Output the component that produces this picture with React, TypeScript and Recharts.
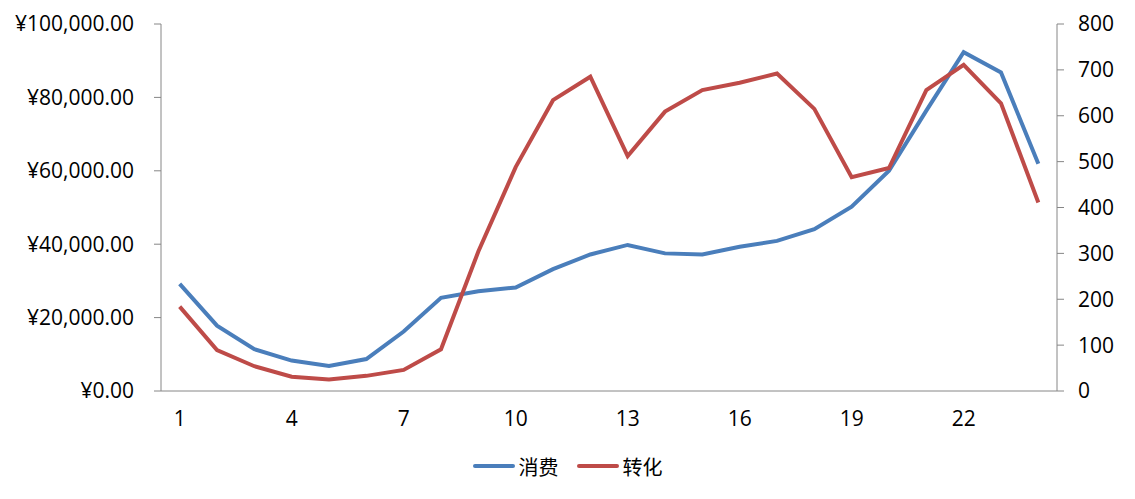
import { CartesianGrid, Legend, Line, LineChart, XAxis, YAxis } from "recharts";

const days = [
  "1", "2", "3", "4", "5", "6", "7", "8", "9", "10", "11", "12",
  "13", "14", "15", "16", "17", "18", "19", "20", "21", "22", "23", "24",
];

// 消费 (left axis, ¥)
const spend = [
  29200, 17800, 11400, 8300, 6800, 8700, 16200, 25400, 27200, 28200, 33200, 37200,
  39800, 37500, 37200, 39300, 40900, 44100, 50200, 60000, 76400, 92300, 86800, 61900,
];

// 转化 (right axis)
const conversions = [
  184, 89, 54, 31, 25, 33, 46, 91, 304, 488, 634, 685,
  512, 609, 656, 672, 692, 615, 466, 486, 656, 711, 627, 411,
];

const leftTicks = [0, 20000, 40000, 60000, 80000, 100000];
const rightTicks = [0, 100, 200, 300, 400, 500, 600, 700, 800];

const BLUE = "#4A7EBB";
const RED = "#BE4B48";
const AXIS = "#868686";
const FONT = '"Open Sans", "Noto Sans CJK SC", sans-serif';

const data = days.map((day, i) => ({
  day,
  spend: spend[i],
  conversions: conversions[i],
}));

const yen = (v: number) =>
  "¥" + v.toLocaleString("en-US", { minimumFractionDigits: 2, maximumFractionDigits: 2 });

const LegendContent = () => (
  <div
    style={{
      display: "flex",
      justifyContent: "center",
      alignItems: "center",
      height: 30,
      fontFamily: FONT,
      fontSize: 20,
      color: "#000",
    }}
  >
    {[
      { name: "消费", color: BLUE },
      { name: "转化", color: RED },
    ].map((item, i) => (
      <div key={item.name} style={{ display: "flex", alignItems: "center", marginLeft: i ? 18 : 0 }}>
        <div style={{ width: 42, height: 4, borderRadius: 2, background: item.color, marginRight: 4 }} />
        <span>{item.name}</span>
      </div>
    ))}
  </div>
);

export default function App() {
  const tick = { fill: "#000", fontSize: 21, fontFamily: FONT };
  return (
    <div style={{ position: "absolute", left: 0, top: 0, width: 1135, height: 499, background: "#fff" }}>
      <LineChart
        width={1135}
        height={499}
        data={data}
        margin={{ top: 24, right: 0, left: 0, bottom: 18 }}
      >
        <CartesianGrid horizontal={false} vertical={false} />
        <XAxis
          dataKey="day"
          interval={2}
          height={60}
          padding={{ left: 18.67, right: 18.67 }}
          tickLine={false}
          tickSize={0}
          tickMargin={20}
          stroke={AXIS}
          tick={tick}
        />
        <YAxis
          yAxisId="left"
          width={161}
          domain={[0, 100000]}
          ticks={leftTicks}
          tickFormatter={yen}
          tickSize={7}
          tickMargin={20}
          stroke={AXIS}
          tick={tick}
        />
        <YAxis
          yAxisId="right"
          orientation="right"
          width={78}
          domain={[0, 800]}
          ticks={rightTicks}
          tickSize={7}
          tickMargin={14}
          stroke={AXIS}
          tick={{ ...tick, textAnchor: "start" }}
        />
        <Legend verticalAlign="bottom" height={30} content={<LegendContent />} />
        <Line
          yAxisId="left"
          dataKey="spend"
          name="消费"
          type="linear"
          stroke={BLUE}
          strokeWidth={4}
          dot={false}
          isAnimationActive={false}
        />
        <Line
          yAxisId="right"
          dataKey="conversions"
          name="转化"
          type="linear"
          stroke={RED}
          strokeWidth={4}
          dot={false}
          isAnimationActive={false}
        />
      </LineChart>
    </div>
  );
}
